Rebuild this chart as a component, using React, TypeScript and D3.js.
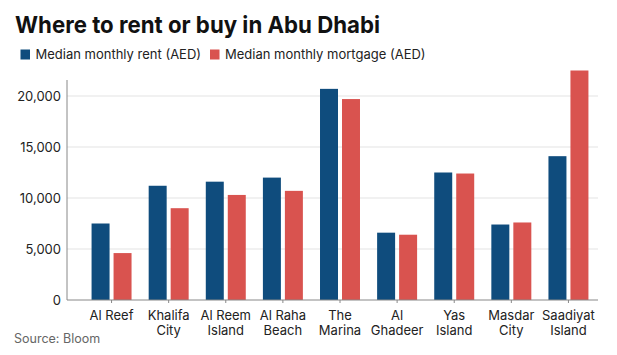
import React from "react";
import * as d3 from "d3";

const categories: string[][] = [
  ["Al Reef"],
  ["Khalifa", "City"],
  ["Al Reem", "Island"],
  ["Al Raha", "Beach"],
  ["The", "Marina"],
  ["Al", "Ghadeer"],
  ["Yas", "Island"],
  ["Masdar", "City"],
  ["Saadiyat", "Island"],
];
const rent = [7500, 11200, 11600, 12000, 20700, 6600, 12500, 7400, 14100];
const mortgage = [4600, 9000, 10300, 10700, 19700, 6400, 12400, 7600, 22500];
const yTicks = [0, 5000, 10000, 15000, 20000];
const seriesNames = ["Median monthly rent (AED)", "Median monthly mortgage (AED)"];
const colors = ["#0f4c7d", "#d9534f"];

const W = 617;
const H = 355;
const FONT = "Inter, 'Noto Sans', sans-serif";

export default function App() {
  const x = d3
    .scaleBand<number>()
    .domain(d3.range(categories.length))
    .range([83, 597])
    .paddingInner(0.3)
    .paddingOuter(0.15);
  const y = d3.scaleLinear().domain([0, 20000]).range([300, 96]);
  const bw = x.bandwidth();
  const gap = 4;
  const barW = (bw - gap) / 2;
  const fmt = d3.format(",");
  const legendX = [20.5, 210];
  return (
    <svg
      width={W}
      height={H}
      style={{ position: "absolute", left: 0, top: 0, background: "#fff" }}
      fontFamily={FONT}
    >
      <text
        x={15}
        y={32.5}
        fontSize={23.5}
        fontWeight={700}
        fill="#111"
        textLength={365}
        lengthAdjust="spacingAndGlyphs"
      >
        Where to rent or buy in Abu Dhabi
      </text>
      {seriesNames.map((s, i) => {
        const lx = legendX[i];
        return (
          <g key={s}>
            <rect x={lx} y={49.5} width={9.5} height={10} fill={colors[i]} />
            <text x={lx + 15} y={59} fontSize={13} fill="#222">
              {s}
            </text>
          </g>
        );
      })}
      {yTicks.map((t) => (
        <g key={t}>
          {t > 0 && (
            <line x1={67} x2={598} y1={y(t)} y2={y(t)} stroke="#e3e3e3" strokeWidth={1} />
          )}
          <text x={61} y={y(t)} dy="0.35em" textAnchor="end" fontSize={13} fill="#222">
            {fmt(t)}
          </text>
        </g>
      ))}
      <line x1={67} x2={67} y1={80} y2={300} stroke="#888" strokeWidth={1} />
      {categories.map((c, i) => {
        const x0 = x(i)!;
        const cx = x0 + bw / 2;
        return (
          <g key={i}>
            <rect x={x0} y={y(rent[i])} width={barW} height={300 - y(rent[i])} fill={colors[0]} />
            <rect
              x={x0 + barW + gap}
              y={y(mortgage[i])}
              width={barW}
              height={300 - y(mortgage[i])}
              fill={colors[1]}
            />
            <line x1={cx} x2={cx} y1={300} y2={303} stroke="#888" />
            {c.map((line, j) => (
              <text
                key={j}
                x={cx}
                y={320 + j * 15}
                textAnchor="middle"
                fontSize={13}
                fill="#222"
              >
                {line}
              </text>
            ))}
          </g>
        );
      })}
      <line x1={67} x2={598} y1={300} y2={300} stroke="#888" strokeWidth={1} />
      <text x={14} y={343} fontSize={12.5} fill="#666">
        Source: Bloom
      </text>
    </svg>
  );
}
